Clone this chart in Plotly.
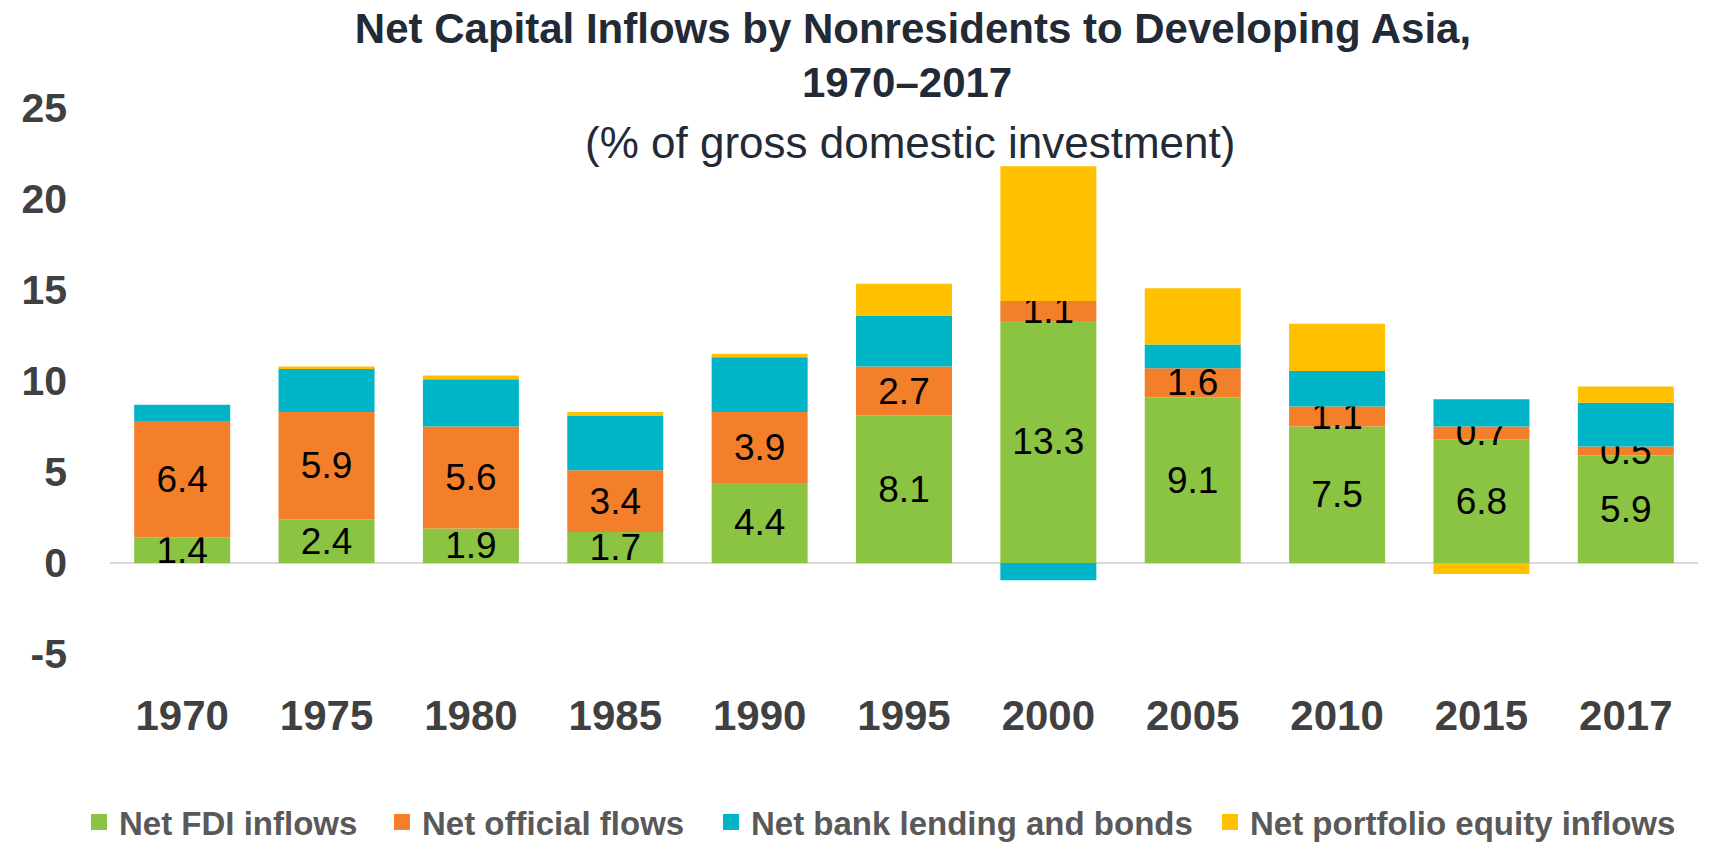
import plotly.graph_objects as go

years = ["1970", "1975", "1980", "1985", "1990", "1995", "2000", "2005", "2010", "2015", "2017"]
fdi = [1.4, 2.4, 1.9, 1.7, 4.4, 8.1, 13.3, 9.1, 7.5, 6.8, 5.9]
official = [6.4, 5.9, 5.6, 3.4, 3.9, 2.7, 1.1, 1.6, 1.1, 0.7, 0.5]
bank = [0.9, 2.4, 2.6, 3.0, 3.0, 2.8, -0.95, 1.3, 1.95, 1.5, 2.4]
portfolio = [0.0, 0.1, 0.2, 0.2, 0.2, 1.75, 7.4, 3.1, 2.6, -0.6, 0.9]

y_tick_values = [-5, 0, 5, 10, 15, 20, 25]
y_tick_labels = ["-5", "0", "5", "10", "15", "20", "25"]

series_names = ["Net FDI inflows", "Net official flows", "Net bank lending and bonds", "Net portfolio equity inflows"]
colors = ["#8BC342", "#F47F2A", "#00B5C8", "#FFC000"]
labelled = [True, True, False, False]
values = [fdi, official, bank, portfolio]
legend_ids = ["legend", "legend2", "legend3", "legend4"]

FONT = "'Liberation Sans', Arial, sans-serif"
W, H = 1709, 842
L, R, T, B = 110, 11, 108, 188
pw, ph = W - L - R, H - T - B

def px_x(p):
    return (p - L) / pw

def px_y(p):
    return (H - B - p) / ph

fig = go.Figure()
for name, col, vals, lab in zip(series_names, colors, values, labelled):
    fig.add_trace(go.Bar(
        x=years, y=vals, name=name,
        marker=dict(color=col, line=dict(width=0)),
        texttemplate="%{y:.1f}" if lab else None,
        textposition="inside" if lab else "none",
        insidetextanchor="middle",
        textangle=0,
        textfont=dict(family=FONT, size=37, color="#000000"),
        hoverinfo="skip",
        showlegend=False,
    ))

# legend entries (square swatches)
for name, col, lid in zip(series_names, colors, legend_ids):
    fig.add_trace(go.Scatter(
        x=[None], y=[None], mode="markers", name=name,
        marker=dict(symbol="square", size=22, color=col),
        legend=lid, showlegend=True, hoverinfo="skip",
    ))

legend_text_x = [121, 424, 753, 1252]
legend_common = dict(
    orientation="h", xanchor="left", yanchor="middle",
    xref="container", yref="container", y=1 - 822 / H,
    font=dict(family=FONT, size=33, color="#595959", weight="bold"),
    bgcolor="rgba(0,0,0,0)", borderwidth=0, itemsizing="trace",
)
legends = {}
for lid, tx in zip(legend_ids, legend_text_x):
    legends[lid] = dict(x=(tx - 42) / W, **legend_common)

fig.update_layout(
    width=W, height=H, autosize=False,
    margin=dict(l=L, r=R, t=T, b=B, pad=0),
    paper_bgcolor="white", plot_bgcolor="white",
    barmode="relative", bargap=0.335,
    uniformtext=dict(mode="show", minsize=37),
    title=dict(
        text="Net Capital Inflows by Nonresidents to Developing Asia,",
        x=913 / W, xanchor="center", y=1 - 28 / H, yanchor="middle",
        font=dict(family=FONT, size=42, color="#222A35", weight="bold"),
    ),
    xaxis=dict(
        type="category", showgrid=False, showline=False, ticks="",
        tickfont=dict(family=FONT, size=42, color="#404040", weight="bold"),
        ticklabelstandoff=33,
    ),
    yaxis=dict(
        range=[-5, 25], tickmode="array", tickvals=y_tick_values, ticktext=y_tick_labels,
        showgrid=False, showline=False, ticks="",
        zeroline=True, zerolinecolor="#D9D9D9", zerolinewidth=2,
        tickfont=dict(family=FONT, size=41, color="#404040", weight="bold"),
        ticklabelstandoff=42,
    ),
    annotations=[
        dict(text="1970–2017", xref="paper", yref="paper", x=px_x(907), y=px_y(83),
             xanchor="center", yanchor="middle", showarrow=False,
             font=dict(family=FONT, size=42, color="#222A35", weight="bold")),
        dict(text="(% of gross domestic investment)", xref="paper", yref="paper",
             x=px_x(910), y=px_y(142), xanchor="center", yanchor="middle", showarrow=False,
             font=dict(family=FONT, size=44, color="#222A35")),
    ],
    showlegend=True,
    **legends,
)

fig.write_html("out.html", config={"displayModeBar": False},
               post_script="document.body.style.margin='0';")
